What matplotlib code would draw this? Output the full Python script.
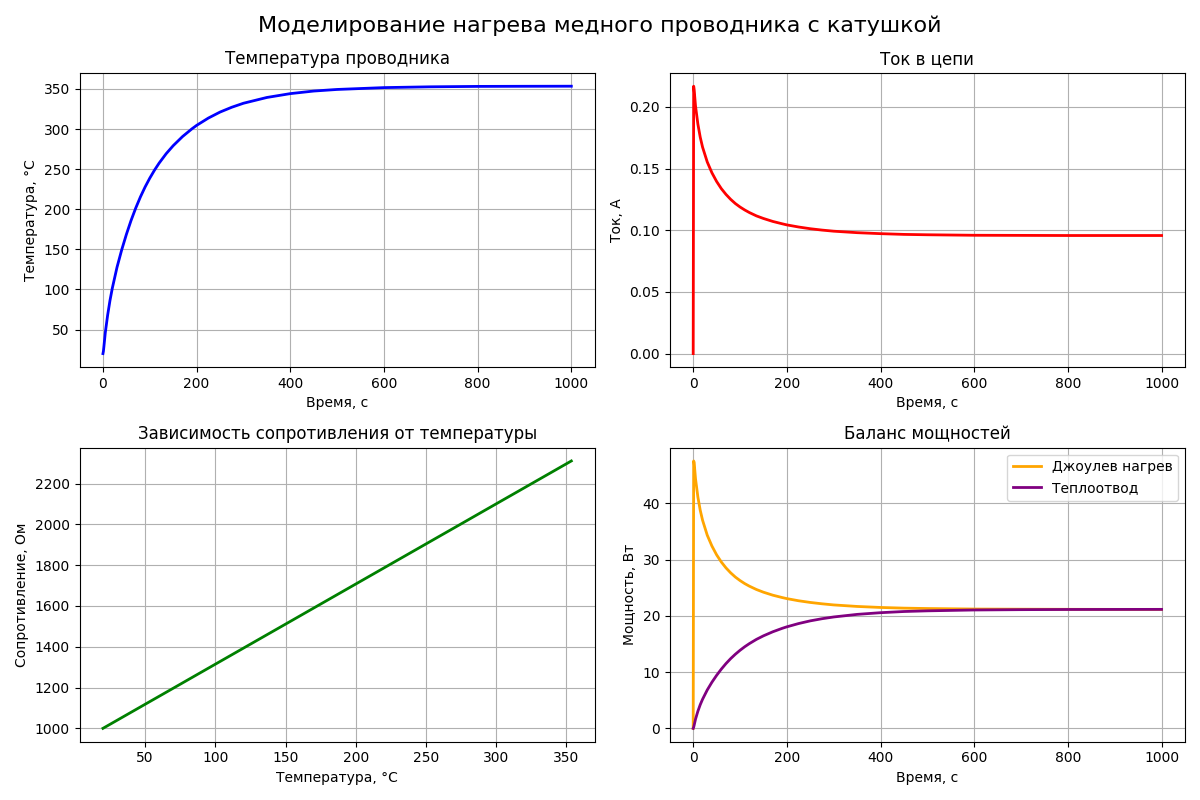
import numpy as np
import matplotlib
matplotlib.use("Agg")
import matplotlib.pyplot as plt

# время, с
time_s = [0, 1, 2, 5, 10, 15, 20, 30, 40, 50, 60, 70, 80, 90, 100, 110, 120, 135,
          150, 170, 190, 200, 225, 250, 275, 300, 350, 400, 450, 500, 600, 700,
          800, 900, 1000]

# температура проводника, °C
temp_c = [20, 23, 28.5, 46.0, 67.9, 86.2, 101.6, 127.6, 149.3, 168.6, 186.0, 201.5,
          215.4, 227.8, 238.8, 248.7, 257.6, 269.3, 279.3, 290.7, 300.3, 304.6,
          313.7, 321.2, 327.2, 332.2, 339.4, 344.2, 347.4, 349.4, 351.7, 352.7,
          353.2, 353.35, 353.45]

# сопротивление, Ом
resist_ohm = [1000, 1011.8, 1033.4, 1102.2, 1188.2, 1260.2, 1320.7, 1422.9, 1508.1,
              1584.0, 1652.4, 1713.3, 1767.9, 1816.7, 1859.9, 1898.8, 1933.8, 1979.7,
              2019.0, 2063.9, 2101.6, 2118.5, 2154.2, 2183.7, 2207.3, 2226.9, 2255.2,
              2274.1, 2286.7, 2294.5, 2303.6, 2307.5, 2309.5, 2310.1, 2310.5]

# ток в цепи, А
current_a = [0.0, 0.2167, 0.2139, 0.2005, 0.1860, 0.1754, 0.1673, 0.1553, 0.1465,
             0.1395, 0.1337, 0.1290, 0.1250, 0.1216, 0.1188, 0.1164, 0.1143, 0.1116,
             0.1095, 0.1071, 0.1052, 0.1043, 0.1026, 0.1012, 0.1001, 0.0992, 0.0980,
             0.0972, 0.0966, 0.0963, 0.0959, 0.0958, 0.0957, 0.0957, 0.0957]

# джоулев нагрев, Вт
p_joule = [0.0, 47.51, 47.26, 44.31, 41.10, 38.76, 36.98, 34.32, 32.39, 30.83, 29.56,
           28.51, 27.63, 26.88, 26.26, 25.72, 25.26, 24.67, 24.19, 23.66, 23.24, 23.05,
           22.67, 22.37, 22.13, 21.93, 21.66, 21.48, 21.36, 21.29, 21.20, 21.17, 21.15,
           21.14, 21.14]

# теплоотвод, Вт
p_loss = [0.0, 0.19, 0.54, 1.65, 3.04, 4.20, 5.17, 6.82, 8.20, 9.42, 10.52, 11.51,
          12.39, 13.17, 13.87, 14.50, 15.06, 15.81, 16.44, 17.16, 17.77, 18.04, 18.62,
          19.10, 19.48, 19.79, 20.25, 20.55, 20.76, 20.88, 21.03, 21.09, 21.12, 21.13,
          21.14]

fig, axarr = plt.subplots(2, 2, figsize=(12, 8), dpi=100)

#Температура
ax = axarr[0, 0]
ax.plot(time_s, temp_c, color='blue', linewidth=2)
ax.set_title("Температура проводника")
ax.set_xlabel("Время, с")
ax.set_ylabel("Температура, °C")
ax.grid(True)

#Ток
ax = axarr[0, 1]
ax.plot(time_s, current_a, color='red', linewidth=2)
ax.set_title("Ток в цепи")
ax.set_xlabel("Время, с")
ax.set_ylabel("Ток, А")
ax.grid(True)

#Сопротивление
ax = axarr[1, 0]
ax.plot(temp_c, resist_ohm, color='green', linewidth=2)
ax.set_title("Зависимость сопротивления от температуры")
ax.set_xlabel("Температура, °C")
ax.set_ylabel("Сопротивление, Ом")
ax.grid(True)

#Мощности
ax = axarr[1, 1]
ax.plot(time_s, p_joule, color='orange', linewidth=2, label="Джоулев нагрев")
ax.plot(time_s, p_loss, color='purple', linewidth=2, label="Теплоотвод")
ax.set_title("Баланс мощностей")
ax.set_xlabel("Время, с")
ax.set_ylabel("Мощность, Вт")
ax.legend()
ax.grid(True)

fig.suptitle("Моделирование нагрева медного проводника с катушкой", fontsize=16)
plt.tight_layout()
plt.savefig("out.png")
